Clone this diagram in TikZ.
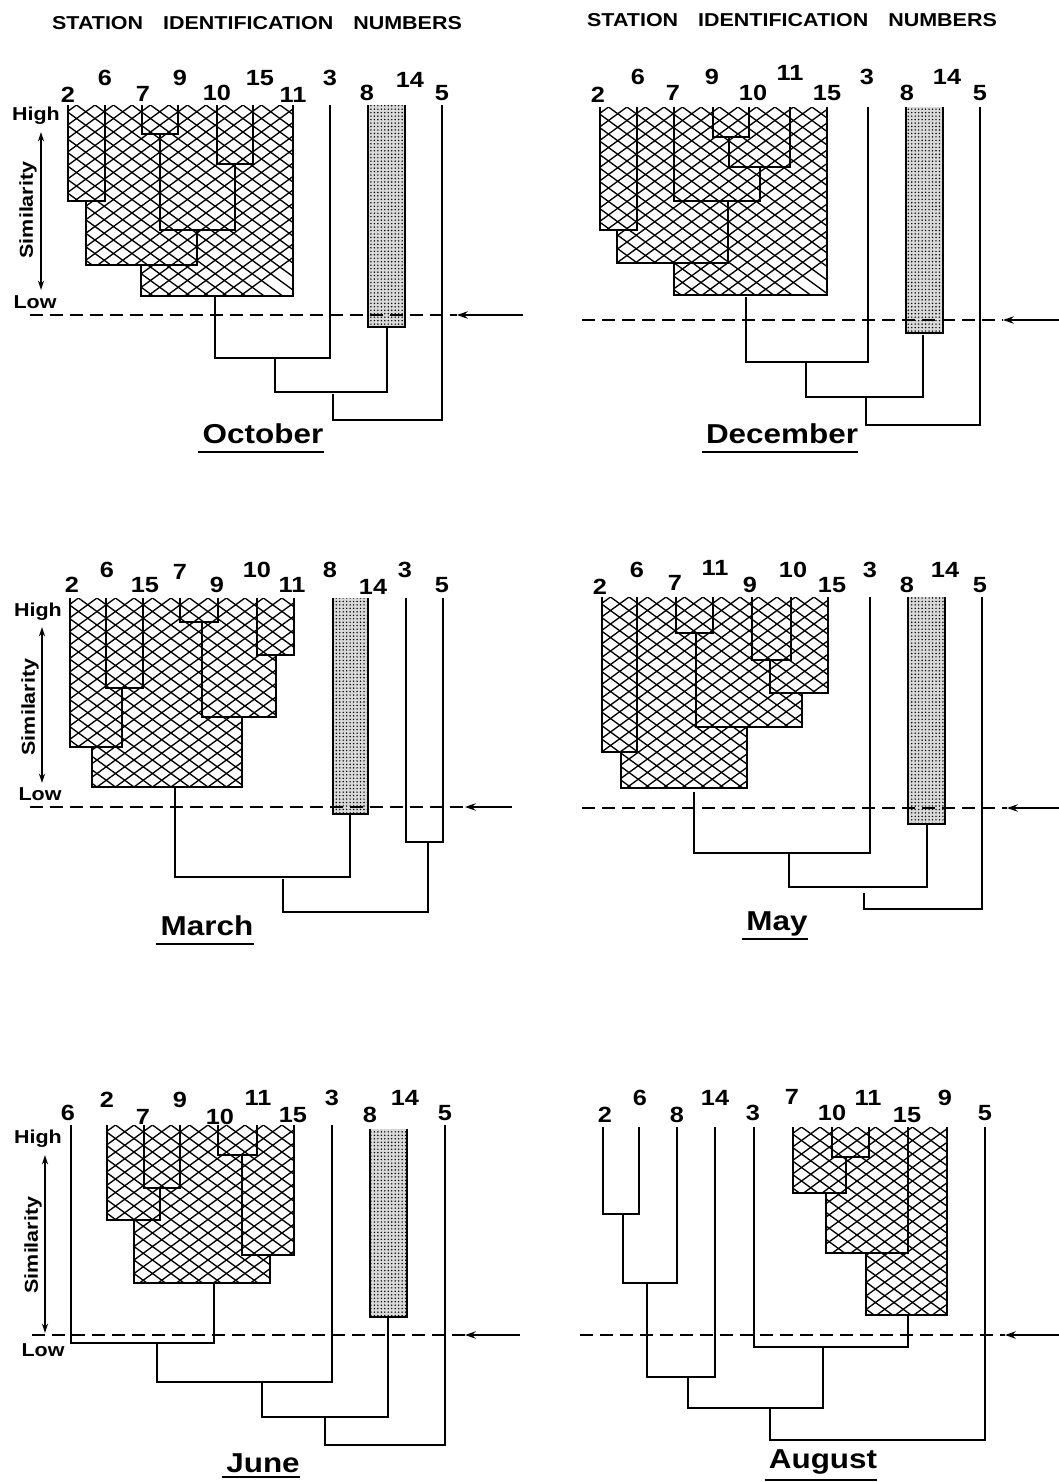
\documentclass[tikz,border=0pt]{standalone}
\usepackage{fontspec}
\setmainfont{Liberation Sans}[FakeStretch=1.15]
\usetikzlibrary{arrows.meta,patterns.meta}
\tikzset{
 dend/.style={line width=1.9pt, line join=miter},
 meshln/.style={line width=1.0pt},
 stip/.style={fill=black!15, postaction={pattern={Dots[distance=2.6pt,radius=0.6pt]}}},
 cutline/.style={line width=1.5pt, dash pattern=on 10pt off 5pt},
 cutarrow/.style={line width=1.5pt, -{Stealth[length=8pt,width=5.5pt]}},
 num/.style={font=\fontsize{16.5}{16.5}\selectfont\bfseries, inner sep=0pt},
 ttl/.style={font=\fontsize{14}{14}\selectfont\bfseries, inner sep=0pt, anchor=base},
 hl/.style={font=\fontsize{14}{14}\selectfont\bfseries, inner sep=0pt, anchor=base},
 simtxt/.style={font=\fontsize{14}{14}\selectfont\bfseries, inner sep=0pt, rotate=90},
 month/.style={font=\fontsize{20.5}{20.5}\selectfont\bfseries, inner sep=0pt, anchor=base},
 uline/.style={line width=1.5pt},
 axisf/.style={line width=1.3pt, {Stealth[length=7pt,width=4.5pt]}-{Stealth[length=7pt,width=4.5pt]}},
 axiso/.style={line width=1.3pt, {Stealth[length=7pt,width=4.5pt,open]}-{Stealth[length=7pt,width=4.5pt,open]}},
}
\newcommand{\meshfill}[3]{%
 \begin{scope}
 \clip #1;
 \foreach \i in {-24,...,24}{
   \draw[meshln] (#2-10,#3+\i*13.5) -- ++(330,330*0.73);
   \draw[meshln] (#2-10,#3+\i*13.5) -- ++(330,-330*0.73);
 }
 \end{scope}}
\newcommand{\lb}[4]{\node[num] (#1) at (#2,#3) {#4};}
\newcommand{\ttltext}{STATION\hspace{15pt}IDENTIFICATION\hspace{15pt}NUMBERS}
\begin{document}
\begin{tikzpicture}[x=0.75pt,y=-0.75pt]
\useasboundingbox (0,0) rectangle (1059,1482);
\fill[white] (0,0) rectangle (1059,1482);

% titles
\node[ttl] (t1) at (257,29) {\ttltext};
\node[ttl] (t2) at (792,26) {\ttltext};

% ================= OCTOBER =================
\meshfill{(68,105)--(68,201)--(86,201)--(86,265)--(141,265)--(141,296)--(293,296)--(293,105)--cycle}{68}{105}
\path[stip] (368,105) rectangle (405,327);
\draw[dend] (68,105)--(68,201)--(105,201)--(105,105);
\draw[dend] (142,105)--(142,134)--(178,134)--(178,105);
\draw[dend] (217,105)--(217,164)--(253,164)--(253,105);
\draw[dend] (160,134)--(160,230)--(235,230)--(235,164);
\draw[dend] (86,201)--(86,265)--(197,265)--(197,230);
\draw[dend] (141,265)--(141,296)--(293,296)--(293,105);
\draw[dend] (215,296)--(215,358)--(330,358)--(330,105);
\draw[dend] (368,105)--(368,327)--(405,327)--(405,105);
\draw[dend] (275,358)--(275,392)--(387,392)--(387,327);
\draw[dend] (333,394)--(333,420)--(442,420)--(442,105);
\lb{o2}{68}{95}{2}\lb{o6}{105}{78}{6}\lb{o7}{143}{94}{7}\lb{o9}{180}{78}{9}
\lb{o10}{217}{93}{10}\lb{o15}{260}{78}{15}\lb{o11}{293}{95}{11}\lb{o3}{330}{78}{3}
\lb{o8}{367}{93}{8}\lb{o14}{410}{80}{14}\lb{o5}{442}{93}{5}
\node[hl] (oh) at (36,120) {High};
\node[hl] (ol) at (35,308) {Low};
\node[simtxt] (os) at (28,210) {Similarity};
\coordinate (oa1) at (41,132); \coordinate (oa2) at (41,290);
\draw[axisf] (oa1) -- (oa2);
\coordinate (oc1) at (30,315); \coordinate (oc2) at (457,315); \coordinate (oc3) at (523,315);
\draw[cutline] (oc1) -- (oc2);
\draw[cutarrow] (oc3) -- (oc2);
\node[month] (mo) at (263,443) {October};
\draw[uline] ([xshift=-3pt,yshift=-7pt]mo.base west) -- ([yshift=-7pt]mo.base east);

% ================= DECEMBER =================
\meshfill{(600,107)--(600,230)--(617,230)--(617,263)--(674,263)--(674,295)--(827,295)--(827,107)--cycle}{600}{107}
\path[stip] (906,107) rectangle (943,333);
\draw[dend] (600,107)--(600,230)--(637,230)--(637,107);
\draw[dend] (713,107)--(713,137)--(749,137)--(749,107);
\draw[dend] (729,137)--(729,167)--(790,167)--(790,107);
\draw[dend] (674,107)--(674,201)--(760,201)--(760,167);
\draw[dend] (617,230)--(617,263)--(728,263)--(728,201);
\draw[dend] (674,263)--(674,295)--(827,295)--(827,107);
\draw[dend] (746,297)--(746,362)--(868,362)--(868,107);
\draw[dend] (906,107)--(906,333)--(943,333)--(943,107);
\draw[dend] (806,362)--(806,397)--(923,397)--(923,335);
\draw[dend] (866,397)--(866,425)--(980,425)--(980,107);
\lb{d2}{598}{95}{2}\lb{d6}{638}{77}{6}\lb{d7}{673}{93}{7}\lb{d9}{712}{77}{9}
\lb{d10}{753}{93}{10}\lb{d11}{790}{73}{11}\lb{d15}{827}{93}{15}\lb{d3}{867}{77}{3}
\lb{d8}{907}{93}{8}\lb{d14}{947}{77}{14}\lb{d5}{980}{93}{5}
\coordinate (dc1) at (582,320); \coordinate (dc2) at (1003,320); \coordinate (dc3) at (1059,320);
\draw[cutline] (dc1) -- (dc2);
\draw[cutarrow] (dc3) -- (dc2);
\node[month] (md) at (782,443) {December};
\draw[uline] ([xshift=-3pt,yshift=-7pt]md.base west) -- ([yshift=-7pt]md.base east);

% ================= MARCH =================
\meshfill{(70,598)--(70,747)--(92,747)--(92,787)--(242,787)--(242,717)--(276,717)--(276,655)--(294,655)--(294,598)--cycle}{70}{598}
\path[stip] (333,598) rectangle (368,814);
\draw[dend] (180,598)--(180,622)--(218,622)--(218,598);
\draw[dend] (257,598)--(257,655)--(294,655)--(294,598);
\draw[dend] (202,622)--(202,717)--(276,717)--(276,655);
\draw[dend] (106,598)--(106,688)--(143,688)--(143,598);
\draw[dend] (70,598)--(70,747)--(122,747)--(122,688);
\draw[dend] (92,747)--(92,787)--(242,787)--(242,717);
\draw[dend] (175,787)--(175,877)--(350,877)--(350,814);
\draw[dend] (333,598)--(333,814)--(368,814)--(368,598);
\draw[dend] (406,598)--(406,842)--(443,842)--(443,598);
\draw[dend] (283,879)--(283,912)--(428,912)--(428,842);
\lb{r2}{72}{585}{2}\lb{r6}{107}{570}{6}\lb{r15}{145}{585}{15}\lb{r7}{180}{572}{7}
\lb{r9}{217}{585}{9}\lb{r10}{257}{570}{10}\lb{r11}{292}{585}{11}\lb{r8}{330}{570}{8}
\lb{r14}{373}{587}{14}\lb{r3}{405}{570}{3}\lb{r5}{442}{585}{5}
\node[hl] (rh) at (38,616) {High};
\node[hl] (rl) at (40,800) {Low};
\node[simtxt] (rs) at (30,707) {Similarity};
\coordinate (ra1) at (42,627); \coordinate (ra2) at (42,783);
\draw[axiso] (ra1) -- (ra2);
\coordinate (rc1) at (30,807); \coordinate (rc2) at (465,807); \coordinate (rc3) at (512,807);
\draw[cutline] (rc1) -- (rc2);
\draw[cutarrow] (rc3) -- (rc2);
\node[month] (mr) at (207,935) {March};
\draw[uline] ([xshift=-3pt,yshift=-7pt]mr.base west) -- ([yshift=-7pt]mr.base east);

% ================= MAY =================
\meshfill{(602,597)--(602,752)--(621,752)--(621,788)--(747,788)--(747,727)--(802,727)--(802,693)--(828,693)--(828,597)--cycle}{602}{597}
\path[stip] (908,597) rectangle (945,824);
\draw[dend] (676,597)--(676,633)--(713,633)--(713,597);
\draw[dend] (752,597)--(752,660)--(791,660)--(791,597);
\draw[dend] (770,660)--(770,693)--(828,693)--(828,597);
\draw[dend] (696,633)--(696,727)--(802,727)--(802,693);
\draw[dend] (602,597)--(602,752)--(637,752)--(637,597);
\draw[dend] (621,752)--(621,788)--(747,788)--(747,727);
\draw[dend] (694,792)--(694,853)--(870,853)--(870,597);
\draw[dend] (908,597)--(908,824)--(945,824)--(945,597);
\draw[dend] (789,853)--(789,887)--(927,887)--(927,824);
\draw[dend] (864,893)--(864,909)--(982,909)--(982,597);
\lb{y2}{600}{587}{2}\lb{y6}{637}{570}{6}\lb{y7}{675}{583}{7}\lb{y11}{715}{568}{11}
\lb{y9}{750}{585}{9}\lb{y10}{793}{570}{10}\lb{y15}{832}{585}{15}\lb{y3}{870}{570}{3}
\lb{y8}{907}{585}{8}\lb{y14}{945}{570}{14}\lb{y5}{980}{585}{5}
\coordinate (yc1) at (582,808); \coordinate (yc2) at (1007,808); \coordinate (yc3) at (1059,808);
\draw[cutline] (yc1) -- (yc2);
\draw[cutarrow] (yc3) -- (yc2);
\node[month] (my) at (777,930) {May};
\draw[uline] ([xshift=-3pt,yshift=-7pt]my.base west) -- ([yshift=-7pt]my.base east);

% ================= JUNE =================
\meshfill{(107,1125)--(107,1220)--(134,1220)--(134,1283)--(270,1283)--(270,1255)--(294,1255)--(294,1125)--cycle}{107}{1125}
\path[stip] (370,1129) rectangle (407,1317);
\draw[dend] (144,1125)--(144,1188)--(180,1188)--(180,1125);
\draw[dend] (107,1125)--(107,1220)--(160,1220)--(160,1188);
\draw[dend] (218,1125)--(218,1155)--(257,1155)--(257,1125);
\draw[dend] (242,1155)--(242,1255)--(294,1255)--(294,1125);
\draw[dend] (134,1220)--(134,1283)--(270,1283)--(270,1255);
\draw[dend] (71,1125)--(71,1343)--(214,1343)--(214,1283);
\draw[dend] (157,1343)--(157,1382)--(332,1382)--(332,1125);
\draw[dend] (370,1129)--(370,1317)--(407,1317)--(407,1129);
\draw[dend] (262,1382)--(262,1417)--(388,1417)--(388,1317);
\draw[dend] (325,1417)--(325,1445)--(445,1445)--(445,1125);
\lb{j6}{68}{1113}{6}\lb{j2}{107}{1100}{2}\lb{j7}{143}{1117}{7}\lb{j9}{180}{1100}{9}
\lb{j10}{220}{1117}{10}\lb{j11}{258}{1098}{11}\lb{j15}{293}{1115}{15}\lb{j3}{332}{1098}{3}
\lb{j8}{370}{1115}{8}\lb{j14}{405}{1098}{14}\lb{j5}{445}{1113}{5}
\node[hl] (jh) at (38,1143) {High};
\node[hl] (jl) at (43,1356) {Low};
\node[simtxt] (js) at (33,1245) {Similarity};
\coordinate (ja1) at (45,1155); \coordinate (ja2) at (45,1333);
\draw[axisf] (ja1) -- (ja2);
\coordinate (jc1) at (32,1335); \coordinate (jc2) at (465,1335); \coordinate (jc3) at (520,1335);
\draw[cutline] (jc1) -- (jc2);
\draw[cutarrow] (jc3) -- (jc2);
\node[month] (mj) at (263,1472) {June};
\draw[uline] ([xshift=-3pt,yshift=-4pt]mj.base west) -- ([yshift=-4pt]mj.base east);

% ================= AUGUST =================
\meshfill{(793,1127)--(793,1193)--(826,1193)--(826,1253)--(866,1253)--(866,1315)--(947,1315)--(947,1127)--cycle}{793}{1127}
\draw[dend] (603,1127)--(603,1214)--(639,1214)--(639,1127);
\draw[dend] (623,1214)--(623,1283)--(677,1283)--(677,1127);
\draw[dend] (647,1283)--(647,1377)--(715,1377)--(715,1127);
\draw[dend] (832,1127)--(832,1157)--(869,1157)--(869,1127);
\draw[dend] (793,1127)--(793,1193)--(846,1193)--(846,1157);
\draw[dend] (826,1193)--(826,1253)--(908,1253)--(908,1127);
\draw[dend] (866,1253)--(866,1315)--(947,1315)--(947,1127);
\draw[dend] (754,1127)--(754,1347)--(908,1347)--(908,1315);
\draw[dend] (688,1377)--(688,1408)--(823,1408)--(823,1347);
\draw[dend] (770,1408)--(770,1440)--(985,1440)--(985,1127);
\lb{a2}{605}{1115}{2}\lb{a6}{640}{1098}{6}\lb{a8}{677}{1115}{8}\lb{a14}{715}{1098}{14}
\lb{a3}{753}{1113}{3}\lb{a7}{792}{1097}{7}\lb{a10}{832}{1113}{10}\lb{a11}{868}{1098}{11}
\lb{a15}{907}{1115}{15}\lb{a9}{945}{1098}{9}\lb{a5}{985}{1113}{5}
\coordinate (ac1) at (580,1335); \coordinate (ac2) at (1005,1335); \coordinate (ac3) at (1059,1335);
\draw[cutline] (ac1) -- (ac2);
\draw[cutarrow] (ac3) -- (ac2);
\node[month] (ma) at (823,1468) {August};
\draw[uline] ([xshift=-3pt,yshift=-9pt]ma.base west) -- ([yshift=-9pt]ma.base east);
\end{tikzpicture}
\end{document}
